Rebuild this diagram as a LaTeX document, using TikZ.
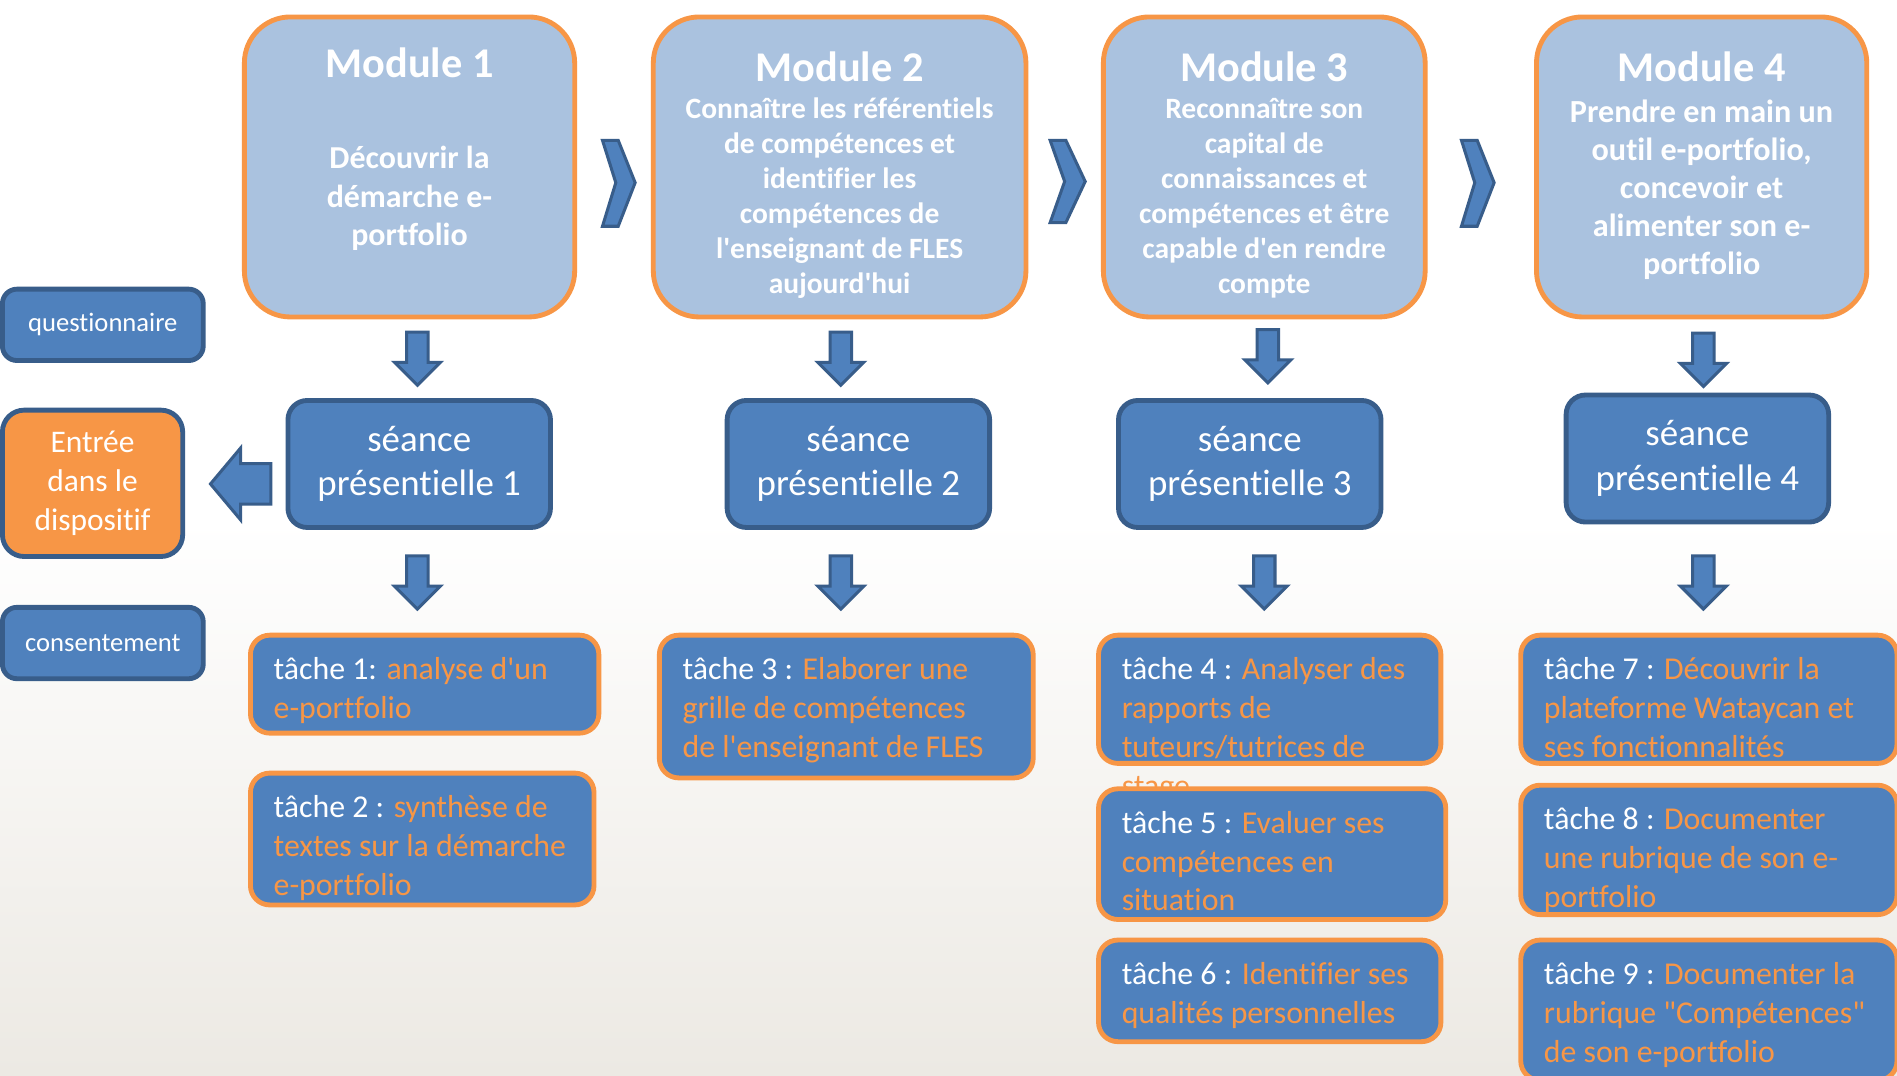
\documentclass[tikz,border=0pt]{standalone}
\usepackage{fontspec}
\setmainfont{Carlito}[Ligatures={TeXOff,NoCommon}]
\usetikzlibrary{shapes.arrows,calc,positioning}

\definecolor{modfill}{RGB}{170,194,223}
\definecolor{orangeppt}{RGB}{247,150,70}
\definecolor{blueppt}{RGB}{79,129,189}
\definecolor{bluedark}{RGB}{56,93,138}
\definecolor{fondbas}{RGB}{236,233,227}

\newcommand{\orng}[1]{\textcolor{orangeppt}{#1}}

\tikzset{
  module/.style={draw=orangeppt, fill=modfill, line width=4pt, rounded corners=38pt, minimum height=248pt},
  modtitre/.style={text=white, inner sep=0pt, font=\fontsize{35}{40}\selectfont\bfseries},
  modtexte/.style={text=white, align=center, inner sep=0pt},
  seance/.style={draw=bluedark, fill=blueppt, line width=4pt, rounded corners=16pt, minimum width=217pt, minimum height=105pt, text=white, align=center, font=\fontsize{30.5}{37}\selectfont},
  tache/.style={draw=orangeppt, fill=blueppt, line width=4pt, rounded corners=16pt},
  tachetexte/.style={anchor=north west, inner sep=0pt, text=white, align=left, font=\fontsize{26.3}{32}\selectfont},
  cote/.style={draw=bluedark, fill=blueppt, line width=4pt, rounded corners=12pt, minimum width=166pt, minimum height=59pt, text=white, font=\fontsize{22}{26}\selectfont},
  fleche/.style={single arrow, draw=bluedark, fill=blueppt, line width=2.5pt, inner sep=7.5pt, minimum height=44pt, minimum width=38pt, single arrow head extend=10pt, shape border rotate=270},
  chevron/.style={draw=bluedark, fill=blueppt, line width=2.5pt, line join=miter}
}

\begin{document}
\begin{tikzpicture}[x=1pt,y=-1pt]
  % fond
  \useasboundingbox (0,0) rectangle (1568,889);
  \fill[white] (0,0) rectangle (1568,889);
  \shade[top color=white, bottom color=fondbas] (0,430) rectangle (1568,889);

  % modules
  \node[module, minimum width=273pt] (m1) at (338.5,138) {};
  \node[module, minimum width=308pt] (m2) at (694,138) {};
  \node[module, minimum width=266pt] (m3) at (1045,138) {};
  \node[module, minimum width=273pt] (m4) at (1406.5,138) {};

  \node[modtitre] (m1titre) at (338.5,52) {Module 1};
  \node[modtitre] (m2titre) at (694,55) {Module 2};
  \node[modtitre] (m3titre) at (1045,55) {Module 3};
  \node[modtitre] (m4titre) at (1406.5,55) {Module 4};

  \node[modtexte, font=\fontsize{26.4}{32}\selectfont\bfseries] (m1texte) at (338.5,164)
    {Découvrir la\\démarche e-\\portfolio};
  \node[modtexte, font=\fontsize{24.4}{29}\selectfont\bfseries] (m2texte) at (694,164)
    {Connaître les référentiels\\de compétences et\\identifier les\\compétences de\\l'enseignant de FLES\\aujourd'hui};
  \node[modtexte, font=\fontsize{24.4}{29}\selectfont\bfseries] (m3texte) at (1045,164)
    {Reconnaître son\\capital de\\connaissances et\\compétences et être\\capable d'en rendre\\compte};
  \node[modtexte, font=\fontsize{26.6}{31.5}\selectfont\bfseries] (m4texte) at (1406.5,157)
    {Prendre en main un\\outil e-portfolio,\\concevoir et\\alimenter son e-\\portfolio};

  % chevrons entre modules
  \draw[chevron] (498,116) -- (511,116) -- (525,151) -- (511,187) -- (498,187) -- (509,151) -- cycle;
  \draw[chevron] (868,116) -- (881,116) -- (897,150) -- (881,184) -- (868,184) -- (880,150) -- cycle;
  \draw[chevron] (1208,116) -- (1221,116) -- (1235,151) -- (1221,187) -- (1208,187) -- (1219,151) -- cycle;

  % seances
  \node[seance] (s1) at (346.5,383.5) {séance\\présentielle 1};
  \node[seance] (s2) at (709.5,383.5) {séance\\présentielle 2};
  \node[seance] (s3) at (1033,383.5) {séance\\présentielle 3};
  \node[seance] (s4) at (1403,379) {séance\\présentielle 4};

  % fleches module -> seance -> taches
  \node[fleche] (f1) at (345,292) {};
  \node[fleche] (f2) at (695,292) {};
  \node[fleche] (f3) at (1048,290) {};
  \node[fleche] (f4) at (1408,293) {};
  \node[fleche] (g1) at (345,477) {};
  \node[fleche] (g2) at (695,477) {};
  \node[fleche] (g3) at (1045,477) {};
  \node[fleche] (g4) at (1408,477) {};

  % a gauche
  \node[cote] (questionnaire) at (85,268.5) {questionnaire};
  \node[cote] (consentement) at (85,531.5) {consentement};
  \node[draw=bluedark, fill=orangeppt, line width=4pt, rounded corners=18pt, minimum width=149pt, minimum height=121pt,
        text=white, align=center, font=\fontsize{26}{32}\selectfont] (entree) at (76.5,399.5) {Entrée\\dans le\\dispositif};
  \node[fleche, inner sep=15.5pt, minimum height=50pt, minimum width=58pt, single arrow head extend=13pt, single arrow tip angle=100,
        shape border rotate=180] (fentree) at (206,400) {};

  % taches
  \node[tache, minimum width=288pt, minimum height=81pt] (t1) at (351,565.5) {};
  \node[tachetexte] (t1texte) at ($(t1.north west)+(21,20.5)$) {tâche 1: \orng{analyse d'un}\\\orng{e-portfolio}};
  \node[tache, minimum width=284pt, minimum height=109pt] (t2) at (349,693.5) {};
  \node[tachetexte] (t2texte) at ($(t2.north west)+(21,20.5)$) {tâche 2 : \orng{synthèse de}\\\orng{textes sur la démarche}\\\orng{e-portfolio}};
  \node[tache, minimum width=309pt, minimum height=118pt] (t3) at (699.5,584) {};
  \node[tachetexte] (t3texte) at ($(t3.north west)+(21,20.5)$) {tâche 3 : \orng{Elaborer une}\\\orng{grille de compétences}\\\orng{de l'enseignant de FLES}};

  \node[tache, minimum width=283pt, minimum height=106pt] (t4) at (1049.5,578) {};
  \node[tachetexte] (t4texte) at ($(t4.north west)+(21,20.5)$) {tâche 4 : \orng{Analyser des}\\\orng{rapports de}\\\orng{tuteurs/tutrices de}\\\orng{stage}};
  \node[tache, minimum width=287pt, minimum height=108pt] (t5) at (1051.5,706) {};
  \node[tachetexte] (t5texte) at ($(t5.north west)+(21,20.5)$) {tâche 5 : \orng{Evaluer ses}\\\orng{compétences en}\\\orng{situation}};
  \node[tache, minimum width=283pt, minimum height=84pt] (t6) at (1049.5,819) {};
  \node[tachetexte] (t6texte) at ($(t6.north west)+(21,20.5)$) {tâche 6 : \orng{Identifier ses}\\\orng{qualités personnelles}};

  \node[tache, minimum width=311pt, minimum height=106pt] (t7) at (1412.5,578) {};
  \node[tachetexte] (t7texte) at ($(t7.north west)+(21,20.5)$) {tâche 7 : \orng{Découvrir la}\\\orng{plateforme Wataycan et}\\\orng{ses fonctionnalités}};
  \node[tache, minimum width=311pt, minimum height=107pt] (t8) at (1412.5,702.5) {};
  \node[tachetexte] (t8texte) at ($(t8.north west)+(21,20.5)$) {tâche 8 : \orng{Documenter}\\\orng{une rubrique de son e-}\\\orng{portfolio}};
  \node[tache, minimum width=311pt, minimum height=116pt] (t9) at (1412.5,835) {};
  \node[tachetexte] (t9texte) at ($(t9.north west)+(21,20.5)$) {tâche 9 : \orng{Documenter la}\\\orng{rubrique "Compétences"}\\\orng{de son e-portfolio}};
\end{tikzpicture}
\end{document}
